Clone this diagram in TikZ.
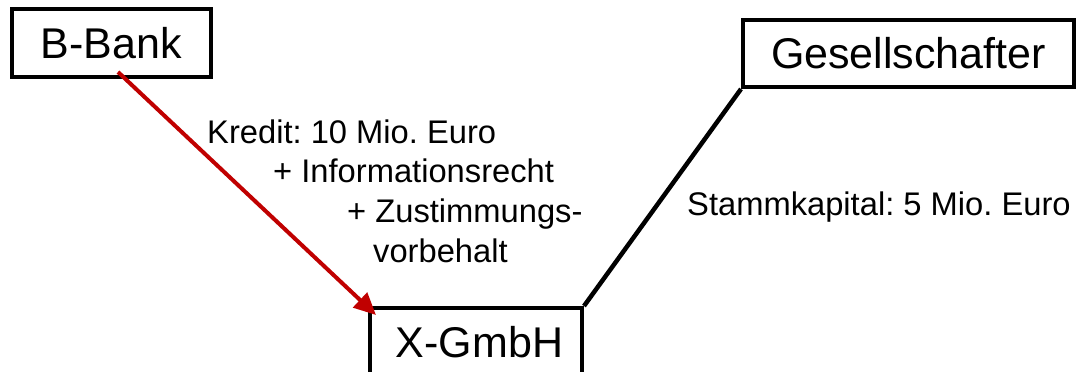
\documentclass[tikz,border=0pt]{standalone}
\usepackage{fontspec}
\setmainfont{Liberation Sans}
\usetikzlibrary{arrows.meta}
\definecolor{creditred}{RGB}{192,0,0}
\frenchspacing
\begin{document}
\begin{tikzpicture}[x=1pt,y=-1pt,
  box/.style={draw=black,line width=4pt,inner sep=0pt,font=\fontsize{43}{50}\selectfont},
  lbl/.style={anchor=base west,inner sep=0pt,font=\fontsize{32.7}{40}\selectfont},
  credit/.style={draw=creditred,line width=4pt,-{Triangle[length=22pt,width=20pt]}},
  link/.style={draw=black,line width=4.5pt}]
\useasboundingbox (0,0) rectangle (1077,372);
\fill[white] (0,0) rectangle (1077,372);
\clip (0,0) rectangle (1077,372);
\node[box,minimum width=199pt,minimum height=68pt] (bbank) at (111.5,43) {B-Bank};
\node[box,minimum width=331pt,minimum height=67pt] (gesell) at (908.5,53.5) {\raisebox{-2.5pt}{Gesellschafter}};
\node[box,minimum width=212pt,minimum height=68pt] (xgmbh) at (476,342) {\hspace*{7pt}X-GmbH};
\node[lbl] (k1) at (207,143) {Kredit: 10 Mio. Euro};
\node[lbl] (k2) at (273,182) {+ Informationsrecht};
\node[lbl] (k3) at (347,222) {+ Zustimmungs-};
\node[lbl] (k4) at (373,262) {vorbehalt};
\node[lbl] (stamm) at (687,215) {Stammkapital: 5 Mio. Euro};
\draw[credit] ([xshift=108pt,yshift=7pt]bbank.south west) -- ([xshift=8pt,yshift=-9pt]xgmbh.north west);
\draw[link] (xgmbh.north east) -- (gesell.south west);
\end{tikzpicture}
\end{document}
